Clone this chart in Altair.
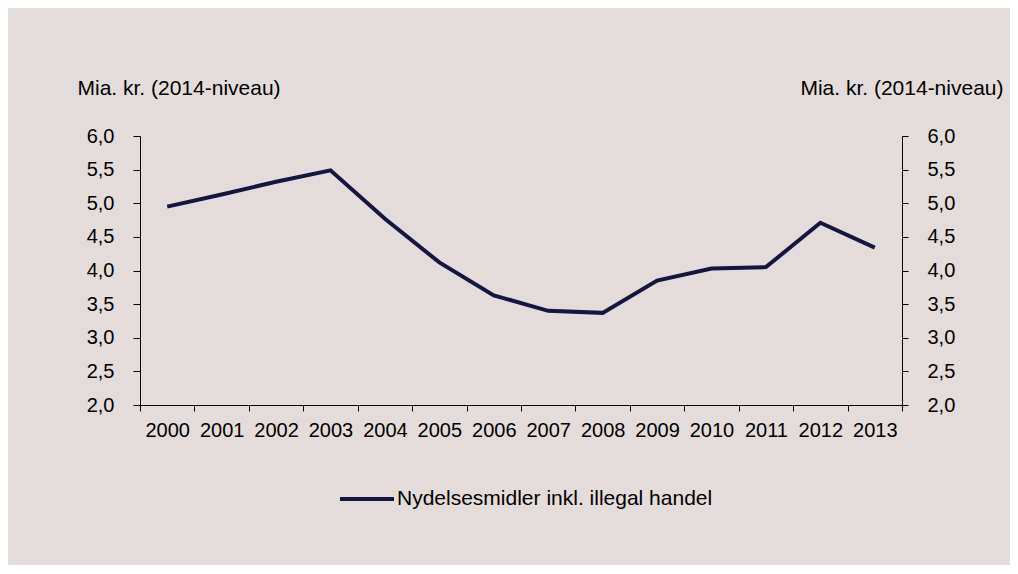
import altair as alt
import pandas as pd

years = ["2000", "2001", "2002", "2003", "2004", "2005", "2006",
         "2007", "2008", "2009", "2010", "2011", "2012", "2013"]
values = [4.95, 5.13, 5.32, 5.49, 4.77, 4.12, 3.63,
          3.40, 3.37, 3.85, 4.03, 4.05, 4.71, 4.34]
series_name = "Nydelsesmidler inkl. illegal handel"
y_ticks = [2.0, 2.5, 3.0, 3.5, 4.0, 4.5, 5.0, 5.5, 6.0]
axis_title = "Mia. kr. (2014-niveau)"

df = pd.DataFrame({"year": years, "value": values, "series": series_name})

NAVY = "#15163f"
FONT = "Liberation Sans"
label_expr = "replace(format(datum.value, '.1f'), '.', ',')"

x_enc = alt.X(
    "year:O",
    scale=alt.Scale(type="band", paddingInner=0, paddingOuter=0),
    axis=alt.Axis(
        title=None, labelAngle=0, tickBand="extent", tickSize=6,
        labelPadding=9, labelFontSize=20, labelFont=FONT, labelColor="black",
        domainColor="black", tickColor="black", grid=False,
    ),
)

y_scale = alt.Scale(domain=[2, 6], nice=False, zero=False)

left = alt.Chart(df).mark_line(strokeWidth=4, color=NAVY).encode(
    x=x_enc,
    y=alt.Y(
        "value:Q", scale=y_scale,
        axis=alt.Axis(
            title=axis_title, orient="left", values=y_ticks, labelExpr=label_expr,
            tickSize=7, labelPadding=19, labelFontSize=20, labelFont=FONT,
            labelColor="black", domainColor="black", tickColor="black", grid=False,
            titleAngle=0, titleX=-63, titleY=-48, titleAlign="left",
            titleBaseline="middle", titleFontSize=21, titleFont=FONT,
            titleFontWeight="normal", titleColor="black",
        ),
    ),
    color=alt.Color(
        "series:N",
        scale=alt.Scale(domain=[series_name], range=[NAVY]),
        legend=alt.Legend(
            title=None, orient="none", legendX=198, legendY=334,
            symbolType="stroke", symbolSize=2916, symbolStrokeWidth=4,
            labelFontSize=21, labelFont=FONT, labelColor="black",
            labelOffset=1, labelLimit=1000, padding=0,
        ),
    ),
)

right = alt.Chart(df).mark_line(opacity=0).encode(
    x=x_enc,
    y=alt.Y(
        "value:Q", scale=y_scale,
        axis=alt.Axis(
            title=axis_title, orient="right", values=y_ticks, labelExpr=label_expr,
            tickSize=6, labelPadding=19, labelFontSize=20, labelFont=FONT,
            labelColor="black", domainColor="black", tickColor="black", grid=False,
            titleAngle=0, titleX=101, titleY=-48, titleAlign="right",
            titleBaseline="middle", titleFontSize=21, titleFont=FONT,
            titleFontWeight="normal", titleColor="black",
        ),
    ),
)

chart = alt.layer(left, right).resolve_scale(y="independent").properties(
    width=762,
    height=269,
    padding={"left": 132, "top": 128, "right": 108, "bottom": 160},
    autosize=alt.AutoSizeParams(type="none"),
    background="#e3dcdb",
).configure_view(stroke=None)

chart.save("out.html", embed_options={"renderer": "svg", "actions": False})
